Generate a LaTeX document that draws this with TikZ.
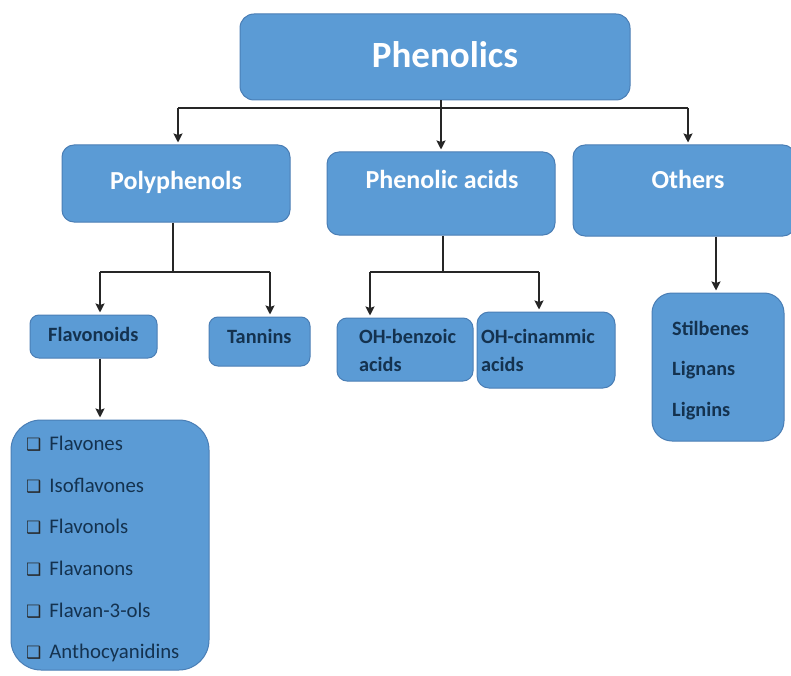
\documentclass[tikz,border=0pt]{standalone}
\usepackage{fontspec}
\setmainfont{Carlito}
\newfontfamily\symfont{DejaVu Sans}
\usetikzlibrary{arrows.meta}
\definecolor{boxfill}{HTML}{5B9BD5}
\definecolor{boxedge}{HTML}{4A7EB5}
\definecolor{navy}{HTML}{14324F}
\definecolor{linec}{HTML}{262626}
\tikzset{
  box/.style={fill=boxfill, draw=boxedge, line width=1pt, inner sep=0pt},
  toptext/.style={text=white, font=\bfseries\fontsize{26}{30}\selectfont, inner sep=0pt, anchor=base},
  subtext/.style={text=navy, font=\bfseries\fontsize{20.3}{22}\selectfont, inner sep=0pt, anchor=base west},
  listtext/.style={text=navy, font=\fontsize{20.8}{22}\selectfont, inner sep=0pt, anchor=base west},
  conn/.style={draw=linec, line width=1.8pt},
  arr/.style={conn, -{Stealth[length=9pt,width=9pt,inset=1.5pt]}, shorten >=2pt},
}
\newcommand{\cbox}{{\symfont\fontsize{17}{17}\selectfont\color{black!85}❑}}
\begin{document}
\begin{tikzpicture}[x=1pt,y=-1pt]
\useasboundingbox (0,0) rectangle (791,676);
% boxes
\node[box, rounded corners=14pt, minimum width=390pt, minimum height=86pt] (phen) at (435,57) {};
\node[box, rounded corners=12pt, minimum width=228pt, minimum height=77pt] (poly) at (176,183.5) {};
\node[box, rounded corners=12pt, minimum width=228pt, minimum height=83pt] (acid) at (441,193.5) {};
\node[box, rounded corners=12pt, minimum width=222pt, minimum height=91pt] (oth) at (684,190.5) {};
\node[box, rounded corners=9pt, minimum width=127pt, minimum height=43pt] (flav) at (93.5,336.5) {};
\node[box, rounded corners=9pt, minimum width=101pt, minimum height=49pt] (tan) at (259.5,341.5) {};
\node[box, rounded corners=10pt, minimum width=136pt, minimum height=63pt] (benz) at (405,349.5) {};
\node[box, rounded corners=12pt, minimum width=138pt, minimum height=76pt] (cin) at (546,350) {};
\node[box, rounded corners=20pt, minimum width=132pt, minimum height=148pt] (stil) at (718,367) {};
\node[box, rounded corners=30pt, minimum width=198pt, minimum height=250pt] (list) at (110,545) {};
% texts
\node[toptext, font=\bfseries\fontsize{37}{40}\selectfont] (tphen) at (445,68) {Phenolics};
\node[toptext] (tpoly) at (176,190) {Polyphenols};
\node[toptext] (tacid) at (442,189) {Phenolic acids};
\node[toptext] (toth) at (688,189) {Others};
\node[subtext] (tflav) at (48,341) {Flavonoids};
\node[subtext] (ttan) at (227,343) {Tannins};
\node[subtext] (tbenz1) at (359,343) {OH-benzoic};
\node[subtext] (tbenz2) at (359,371) {acids};
\node[subtext] (tcin1) at (481,343) {OH-cinammic};
\node[subtext] (tcin2) at (481,371) {acids};
\node[subtext] (ts1) at (672,335) {Stilbenes};
\node[subtext] (ts2) at (672,375) {Lignans};
\node[subtext] (ts3) at (672,416) {Lignins};
\node[listtext] (l1) at (26,450) {\cbox\hspace{8pt}Flavones};
\node[listtext] (l2) at (26,492) {\cbox\hspace{8pt}Isoflavones};
\node[listtext] (l3) at (26,533) {\cbox\hspace{8pt}Flavonols};
\node[listtext] (l4) at (26,575) {\cbox\hspace{8pt}Flavanons};
\node[listtext] (l5) at (26,617) {\cbox\hspace{8pt}Flavan-3-ols};
\node[listtext] (l6) at (26,658) {\cbox\hspace{8pt}Anthocyanidins};
% connectors, level 1
\coordinate (bus1) at (0,108);
\coordinate (pa) at (178,0);
\coordinate (oa) at (688,0);
\draw[conn] (pa |- bus1) -- (oa |- bus1);
\draw[arr] (phen.south -| acid.north) -- (acid.north);
\draw[arr] (pa |- bus1) -- (pa |- poly.north);
\draw[arr] (oa |- bus1) -- (oa |- oth.north);
% polyphenols branch
\coordinate (bus2) at (0,272);
\coordinate (ps) at (173,0);
\coordinate (fa) at (100,0);
\coordinate (ta) at (270,0);
\draw[conn] (ps |- poly.south) -- (ps |- bus2);
\draw[conn] (fa |- bus2) -- (ta |- bus2);
\draw[arr] (fa |- bus2) -- (fa |- flav.north);
\draw[arr] (ta |- bus2) -- (ta |- tan.north);
% phenolic acids branch
\coordinate (as) at (443,0);
\coordinate (ba) at (370,0);
\coordinate (ca) at (539,0);
\draw[conn] (as |- acid.south) -- (as |- bus2);
\draw[conn] (ba |- bus2) -- (ca |- bus2);
\draw[arr] (ba |- bus2) -- (ba |- benz.north);
\draw[arr] (ca |- bus2) -- (ca |- cin.north);
% others branch
\coordinate (oo) at (716,0);
\draw[arr] (oo |- oth.south) -- (oo |- stil.north);
% flavonoids branch
\draw[arr] (fa |- flav.south) -- (fa |- list.north);
\end{tikzpicture}
\end{document}
